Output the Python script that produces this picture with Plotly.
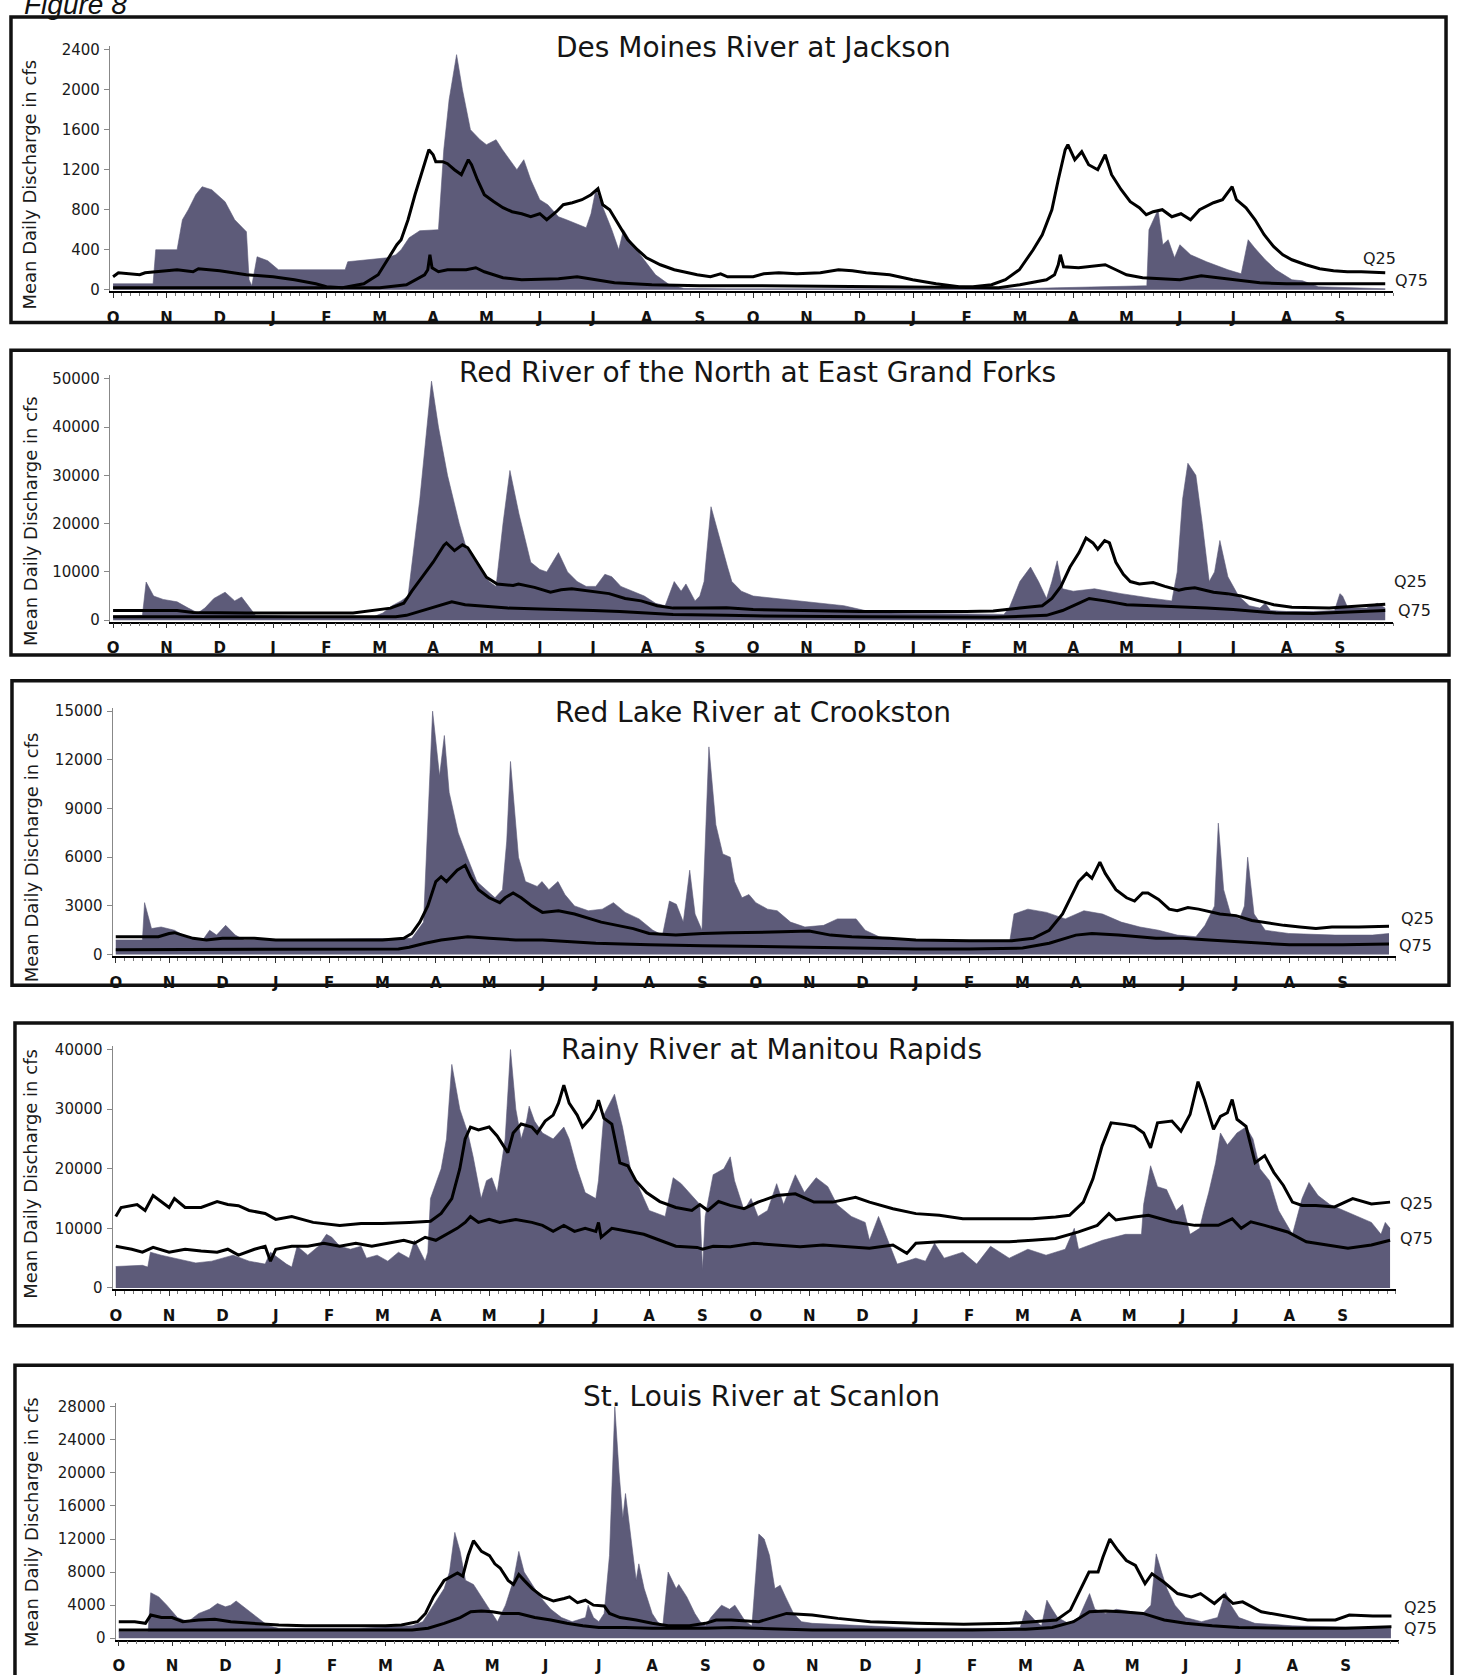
import plotly.graph_objects as go

W, H = 1460, 1675
FILL = '#5d5b79'
FONT = 'DejaVu Sans, Verdana, sans-serif'

months = ['O', 'N', 'D', 'J', 'F', 'M', 'A', 'M', 'J', 'J', 'A', 'S'] * 2
month_pos = list(range(24))

titles = ['Des Moines River at Jackson',
          'Red River of the North at East Grand Forks',
          'Red Lake River at Crookston',
          'Rainy River at Manitou Rapids',
          'St. Louis River at Scanlon']
ytitle = 'Mean Daily Discharge in cfs'

ticks_1 = [0, 400, 800, 1200, 1600, 2000, 2400]
ticks_2 = [0, 10000, 20000, 30000, 40000, 50000]
ticks_3 = [0, 3000, 6000, 9000, 12000, 15000]
ticks_4 = [0, 10000, 20000, 30000, 40000]
ticks_5 = [0, 4000, 8000, 12000, 16000, 20000, 24000, 28000]

# ---------------- Des Moines River at Jackson ----------------
dm_fill_x = [0, 0.75, 0.8, 1.2, 1.3, 1.41, 1.55, 1.67, 1.85, 2.1, 2.28, 2.5, 2.55, 2.6, 2.7, 2.9,
             3.1, 4.35, 4.4, 4.8, 5.14, 5.3, 5.4, 5.55, 5.75, 6.1, 6.2, 6.3, 6.44, 6.55, 6.62, 6.7,
             6.88, 7.0, 7.18, 7.3, 7.57, 7.7, 7.83, 8.0, 8.15, 8.35, 8.5, 8.75, 8.87, 8.96, 9.05,
             9.2, 9.35, 9.48, 9.57, 9.74, 9.96, 10.17, 10.43, 10.7, 11.5, 17.0, 17.7, 19.0, 19.38,
             19.42, 19.5, 19.59, 19.68, 19.78, 19.9, 20.0, 20.2, 20.5, 20.9, 21.15, 21.28, 21.4,
             21.6, 21.8, 22.1, 22.3, 22.6, 23.85]
dm_fill_y = [60, 60, 400, 400, 700, 800, 950, 1030, 1000, 880, 700, 580, 100, 40, 330, 290,
             200, 200, 280, 300, 320, 350, 400, 520, 590, 600, 1400, 1900, 2350, 2000, 1800, 1600,
             1500, 1450, 1500, 1400, 1200, 1300, 1100, 900, 850, 730, 700, 650, 620, 760, 1000,
             800, 600, 400, 600, 450, 300, 150, 50, 15, 10, 10, 20, 30, 40,
             600, 700, 800, 450, 500, 320, 450, 350, 280, 200, 160, 500, 420,
             300, 200, 100, 90, 30, 10]
dm_q25_x = [0, 0.1, 0.5, 0.6, 1.2, 1.5, 1.6, 2.0, 2.5, 3.0, 3.4, 3.8, 4.0, 4.3, 4.5, 4.7, 4.97,
            5.14, 5.32, 5.4, 5.53, 5.66, 5.75, 5.84, 5.92, 6.0, 6.05, 6.18, 6.27, 6.4, 6.53, 6.66,
            6.72, 6.83, 6.96, 7.14, 7.31, 7.48, 7.66, 7.83, 8.0, 8.13, 8.31, 8.44, 8.61, 8.79,
            8.96, 9.09, 9.18, 9.31, 9.48, 9.65, 9.83, 10.0, 10.26, 10.52, 10.78, 10.95, 11.2,
            11.39, 11.52, 12.0, 12.2, 12.48, 12.82, 13.26, 13.6, 13.86, 14.12, 14.56, 14.99,
            15.43, 15.86, 16.12, 16.47, 16.73, 16.99, 17.25, 17.42, 17.6, 17.72, 17.85, 17.9,
            18.03, 18.16, 18.29, 18.46, 18.6, 18.72, 18.9, 19.07, 19.24, 19.37, 19.5, 19.67,
            19.85, 20.02, 20.2, 20.37, 20.63, 20.8, 20.98, 21.06, 21.24, 21.41, 21.58, 21.76,
            21.93, 22.1, 22.36, 22.62, 22.88, 23.14, 23.4, 23.85]
dm_q25_y = [130, 170, 150, 170, 200, 180, 210, 190, 150, 130, 100, 60, 30, 20, 40, 60, 150,
            300, 450, 500, 700, 950, 1100, 1250, 1400, 1350, 1280, 1280, 1260, 1200, 1150, 1300,
            1250, 1100, 950, 880, 820, 780, 760, 730, 760, 700, 780, 850, 870, 900,
            950, 1010, 850, 800, 650, 500, 400, 320, 250, 200, 170, 150, 130,
            160, 130, 130, 160, 170, 160, 170, 200, 190, 170, 150, 100,
            60, 30, 30, 50, 100, 200, 400, 550, 800, 1100, 1400, 1450,
            1300, 1380, 1250, 1200, 1350, 1150, 1000, 880, 820, 750, 780, 800,
            730, 760, 700, 800, 870, 900, 1030, 900, 820, 700, 550, 430,
            350, 300, 250, 210, 190, 180, 180, 170]
dm_q75_x = [0, 3.0, 5.0, 5.5, 5.66, 5.84, 5.9, 5.94, 5.98, 6.1, 6.27, 6.62, 6.8, 6.96, 7.31, 7.66,
            8.35, 8.7, 9.05, 9.4, 10.1, 11.0, 12.0, 14.0, 16.6, 17.0, 17.3, 17.5, 17.65, 17.72,
            17.76, 17.82, 18.1, 18.4, 18.6, 18.8, 19.0, 19.3, 19.6, 20.0, 20.4, 20.7, 21.0,
            21.5, 22.0, 23.85]
dm_q75_y = [20, 20, 20, 50, 100, 150, 200, 350, 220, 180, 200, 200, 220, 180, 120, 100,
            110, 130, 100, 70, 50, 40, 40, 30, 20, 50, 80, 100, 150, 250,
            350, 230, 220, 240, 250, 200, 150, 120, 110, 100, 140, 120, 100,
            70, 60, 60]

# ---------------- Red River of the North ----------------
rr_fill_x = [0, 0.55, 0.62, 0.76, 0.94, 1.2, 1.41, 1.59, 1.72, 1.89, 2.1, 2.28, 2.41, 2.54, 2.67,
             3.5, 4.9, 5.06, 5.23, 5.4, 5.53, 5.75, 5.97, 6.1, 6.27, 6.49, 6.62, 6.8, 7.05, 7.18,
             7.31, 7.44, 7.61, 7.83, 8.0, 8.13, 8.35, 8.52, 8.7, 8.87, 9.05, 9.22, 9.35, 9.52,
             9.74, 9.96, 10.17, 10.35, 10.52, 10.65, 10.74, 10.91, 11.0, 11.08, 11.21, 11.39,
             11.52, 11.6, 11.78, 12.0, 12.4, 12.82, 13.26, 13.7, 14.1, 14.56, 16.7, 16.8, 17.0,
             17.2, 17.35, 17.5, 17.6, 17.7, 17.8, 18.0, 18.4, 18.9, 19.5, 19.85, 19.95, 20.05,
             20.15, 20.3, 20.42, 20.55, 20.65, 20.75, 20.9, 21.1, 21.3, 21.5, 21.6, 21.7, 22.0,
             22.5, 22.9, 23.0, 23.05, 23.15, 23.5, 23.7, 23.85]
rr_fill_y = [900, 1000, 7900, 5000, 4300, 3800, 2500, 1500, 2500, 4500, 5800, 4000, 4800, 3000, 1000,
             800, 800, 1500, 3000, 4000, 5000, 25000, 49500, 40000, 30000, 20000, 15000, 12000, 8000, 7000,
             20000, 31000, 22000, 12000, 10500, 10000, 14000, 10000, 8000, 7000, 7000, 9500, 9000, 7000,
             6000, 5000, 3500, 3000, 8000, 6000, 7500, 4000, 5000, 8000, 23500, 16000,
             11000, 8000, 6000, 5000, 4500, 4000, 3500, 3000, 2000, 1500, 1200, 2500, 8000,
             11000, 8000, 4500, 8000, 12300, 6500, 6000, 6500, 5500, 4500, 4000, 10000, 25000,
             32500, 30000, 20000, 8000, 10000, 16500, 9000, 5000, 3000, 2500, 3500, 2000, 1800,
             1800, 2000, 5500, 5000, 2500, 2500, 3500, 2500]
rr_q25_x = [0, 1.2, 1.5, 2.5, 4.5, 4.9, 5.2, 5.45, 5.6, 5.8, 6.0, 6.2, 6.25, 6.4, 6.55, 6.65, 6.8,
            7.0, 7.2, 7.5, 7.6, 7.9, 8.2, 8.4, 8.6, 9.0, 9.3, 9.6, 9.9, 10.2, 10.5, 11.0, 11.5,
            12.0, 13.0, 14.0, 16.0, 16.5, 17.0, 17.42, 17.6, 17.77, 17.94, 18.11, 18.24, 18.37,
            18.46, 18.59, 18.68, 18.8, 18.94, 19.07, 19.24, 19.5, 19.72, 19.98, 20.1, 20.28,
            20.63, 20.89, 21.15, 21.5, 21.76, 22.1, 22.8, 23.85]
rr_q25_y = [2000, 2000, 1600, 1500, 1500, 2000, 2500, 3500, 6000, 9000, 12000, 15500, 16000, 14400,
            15600, 15000, 12300, 8900, 7500, 7200, 7500, 6800, 5800, 6300, 6500, 6000, 5500, 4500,
            4000, 3000, 2500, 2500, 2600, 2200, 2000, 1800, 1800, 1900, 2500, 3000, 4500, 7000,
            11000, 14000, 17000, 16000, 14700, 16500, 16000, 12000, 9500, 8000, 7500, 7800, 7000,
            6200, 6500, 6700, 5800, 5500, 5000, 4000, 3200, 2700, 2500, 3300]
rr_q75_x = [0, 5.3, 5.5, 5.8, 6.1, 6.35, 6.6, 7.0, 7.4, 8.0, 8.5, 9.0, 9.5, 10.0, 10.5, 11.5,
            12.0, 14.0, 16.5, 17.5, 17.8, 18.1, 18.3, 18.6, 19.0, 19.5, 20.0, 20.5, 21.0, 21.8,
            22.5, 23.85]
rr_q75_y = [700, 700, 1000, 2000, 3000, 3800, 3200, 2800, 2500, 2300, 2200, 2000, 1800, 1500,
            1200, 1000, 900, 700, 600, 1000, 2000, 3500, 4500, 4000, 3200, 3000, 2800, 2500, 2200,
            1500, 1400, 2000]

# ---------------- Red Lake River at Crookston ----------------
rl_fill_x = [0, 0.5, 0.54, 0.67, 0.85, 1.1, 1.37, 1.63, 1.76, 1.89, 2.06, 2.24, 2.41, 5.55, 5.77,
             5.85, 5.94, 6.07, 6.16, 6.25, 6.42, 6.59, 6.77, 6.94, 7.11, 7.25, 7.33, 7.4, 7.47,
             7.55, 7.68, 7.9, 7.99, 8.12, 8.29, 8.42, 8.6, 8.86, 9.12, 9.33, 9.55, 9.81, 10.07,
             10.25, 10.38, 10.51, 10.64, 10.76, 10.86, 10.99, 11.12, 11.25, 11.38, 11.52, 11.6,
             11.74, 11.87, 12.0, 12.22, 12.4, 12.65, 12.92, 13.27, 13.53, 13.88, 14.05, 14.31,
             14.57, 16.76, 16.84, 17.1, 17.45, 17.8, 18.15, 18.5, 18.85, 19.2, 19.55, 19.9, 20.25,
             20.42, 20.6, 20.67, 20.77, 20.9, 21.07, 21.16, 21.22, 21.34, 21.55, 21.99, 22.86,
             23.56, 23.87]
rl_fill_y = [900, 900, 3200, 1600, 1700, 1500, 1000, 900, 1500, 1200, 1800, 1200, 900, 1000, 2000,
             8000, 15000, 11000, 13500, 10000, 7500, 6000, 4500, 4000, 3500, 4000, 7000, 11900, 9000,
             6000, 4500, 4200, 4500, 4000, 4500, 3700, 3000, 2700, 2800, 3200, 2600, 2200, 1500,
             1200, 3300, 3100, 2000, 5200, 2500, 1500, 12800, 8000, 6200, 6000, 4500,
             3500, 3700, 3200, 2800, 2700, 2000, 1700, 1800, 2200, 2200, 1500, 1100,
             900, 800, 2500, 2800, 2600, 2200, 2700, 2500, 2000, 1700, 1500, 1200, 1100,
             1800, 3000, 8100, 4000, 2500, 2200, 3000, 6000, 2500, 1500, 1300, 1200,
             1200, 1300]
rl_q25_x = [0, 0.8, 1.0, 1.1, 1.25, 1.45, 1.7, 2.0, 2.6, 3.0, 5.0, 5.4, 5.55, 5.7, 5.85, 6.0, 6.1,
            6.2, 6.4, 6.55, 6.65, 6.8, 7.0, 7.2, 7.3, 7.45, 7.6, 7.8, 8.0, 8.3, 8.6, 8.9, 9.1, 9.4,
            9.7, 10.0, 10.5, 11.0, 11.5, 12.5, 13.0, 13.4, 13.8, 14.5, 15.0, 16.0, 16.8, 17.2,
            17.5, 17.75, 17.9, 18.05, 18.2, 18.3, 18.45, 18.55, 18.75, 18.95, 19.1, 19.25, 19.35,
            19.55, 19.75, 19.9, 20.1, 20.3, 20.7, 21.0, 21.3, 21.5, 21.9, 22.2, 22.5, 22.8, 23.3,
            23.87]
rl_q25_y = [1100, 1100, 1300, 1350, 1200, 1000, 900, 1000, 1000, 900, 900, 1000, 1300, 2000, 3000,
            4500, 4800, 4500, 5200, 5500, 4800, 4000, 3500, 3200, 3500, 3800, 3500, 3000, 2600, 2700,
            2500, 2200, 2000, 1800, 1600, 1300, 1200, 1300, 1350, 1400, 1450, 1200, 1100, 1000,
            900, 850, 850, 1000, 1500, 2500, 3500, 4500, 5000, 4700, 5700, 5000, 4000, 3500, 3300,
            3800, 3800, 3400, 2800, 2700, 2900, 2800, 2500, 2400, 2100, 2000, 1800, 1700, 1600,
            1700, 1700, 1750]
rl_q75_x = [0, 5.3, 5.5, 5.8, 6.1, 6.4, 6.6, 7.0, 7.5, 8.0, 8.5, 9.0, 9.5, 10.0, 11.0, 12.0, 13.0,
            14.0, 15.0, 16.0, 17.0, 17.5, 17.8, 18.0, 18.3, 18.8, 19.5, 20.0, 20.5, 21.0, 22.0,
            23.0, 23.87]
rl_q75_y = [300, 350, 450, 700, 900, 1000, 1100, 1000, 900, 900, 800, 700, 650, 600, 550, 500, 450,
            420, 350, 350, 400, 700, 1000, 1200, 1300, 1200, 1000, 1000, 900, 800, 600, 600, 650]

# ---------------- Rainy River at Manitou Rapids ----------------
ra_fill_x = [0, 0.5, 0.6, 0.65, 0.85, 1.1, 1.3, 1.5, 1.8, 2.0, 2.2, 2.5, 2.8, 2.9, 3.2, 3.3, 3.4,
             3.6, 3.8, 3.95, 4.05, 4.2, 4.4, 4.6, 4.7, 4.9, 5.1, 5.3, 5.5, 5.6, 5.8, 5.85, 5.9,
             6.1, 6.2, 6.3, 6.45, 6.6, 6.7, 6.85, 6.95, 7.05, 7.15, 7.3, 7.4, 7.5, 7.6, 7.7, 7.75,
             7.85, 8.0, 8.2, 8.4, 8.5, 8.65, 8.8, 9.0, 9.05, 9.15, 9.35, 9.5, 9.65, 9.8, 10.0,
             10.3, 10.45, 10.6, 10.85, 10.95, 11.0, 11.05, 11.2, 11.4, 11.52, 11.6, 11.78, 11.91,
             12.04, 12.22, 12.39, 12.52, 12.74, 12.91, 13.13, 13.35, 13.52, 13.79, 14.05, 14.13,
             14.3, 14.52, 14.65, 15.0, 15.18, 15.35, 15.53, 15.88, 16.14, 16.4, 16.75, 17.1,
             17.44, 17.8, 17.97, 18.05, 18.5, 18.93, 19.23, 19.27, 19.4, 19.53, 19.7, 19.88, 20.0,
             20.14, 20.32, 20.4, 20.49, 20.62, 20.71, 20.84, 21.02, 21.19, 21.32, 21.45, 21.63,
             21.8, 21.93, 22.06, 22.24, 22.37, 22.54, 22.76, 23.02, 23.28, 23.54, 23.72, 23.8,
             23.89]
ra_fill_y = [3600, 3800, 3500, 6000, 5500, 5000, 4500, 4200, 4500, 5000, 5500, 4500, 4000, 6000,
             4000, 3500, 7000, 5500, 7000, 9000, 8500, 7000, 6500, 7000, 5000, 5500, 4500, 6000,
             5000, 8000, 4500, 6000, 15000, 20000, 25000, 37500, 30000, 26000, 22000, 15000, 18000,
             18500, 16000, 25000, 40000, 30000, 25000, 28000, 30500, 28000, 26000, 25000, 27000,
             25000, 20000, 16000, 15000, 18000, 29000, 32500, 27000, 20000, 17000, 13000, 12000,
             18500, 17500, 15000, 14000, 3000, 12000, 19000, 20000, 22000, 18000, 13000, 15000,
             12000, 13000, 17500, 14000, 19000, 16000, 18500, 17000, 14000, 12000, 11000, 8000,
             12000, 7000, 4000, 5000, 4500, 7500, 5000, 6000, 4000, 7000, 5000, 6500,
             5500, 6500, 10000, 6500, 8000, 9000, 9000, 14000, 20500, 17000, 16500, 13000, 14000,
             9000, 10000, 13000, 16000, 21000, 26000, 24000, 26000, 27000, 25000, 20000, 18000,
             13000, 11000, 9000, 15000, 17700, 15500, 14000, 13000, 12000, 11000, 9000, 11000,
             10000]
ra_q25_x = [0, 0.1, 0.4, 0.55, 0.7, 0.85, 1.0, 1.1, 1.3, 1.6, 1.9, 2.1, 2.3, 2.5, 2.8, 3.0, 3.3,
            3.7, 4.2, 4.6, 5.0, 5.5, 5.9, 6.1, 6.3, 6.45, 6.55, 6.65, 6.8, 7.0, 7.15, 7.35, 7.45,
            7.6, 7.8, 7.9, 8.05, 8.2, 8.3, 8.4, 8.5, 8.65, 8.75, 8.9, 9.0, 9.05, 9.15, 9.3, 9.45,
            9.6, 9.75, 9.95, 10.2, 10.5, 10.8, 10.95, 11.1, 11.3, 11.52, 11.78, 12.04, 12.39,
            12.74, 13.09, 13.44, 13.87, 14.13, 14.57, 15.0, 15.44, 15.88, 16.31, 16.75, 17.18,
            17.62, 17.88, 18.14, 18.32, 18.49, 18.66, 18.93, 19.1, 19.27, 19.4, 19.53, 19.8,
            19.97, 20.14, 20.29, 20.41, 20.58, 20.71, 20.84, 20.93, 21.02, 21.19, 21.36, 21.54,
            21.71, 21.89, 22.06, 22.24, 22.5, 22.85, 23.19, 23.54, 23.89]
ra_q25_y = [12000, 13500, 14000, 13000, 15500, 14500, 13500, 15000, 13500, 13500, 14500, 14000,
            13800, 13000, 12500, 11500, 12000, 11000, 10500, 10800, 10800, 11000, 11200, 12500,
            15000, 20000, 25000, 27000, 26500, 27000, 25500, 22700, 26000, 27500, 27000, 26000,
            28000, 29000, 31000, 34000, 31000, 29000, 27000, 28500, 30000, 31500, 28500, 27500,
            21000, 20500, 18000, 16000, 14500, 13500, 13000, 14000, 13000, 14500, 13850, 13300,
            14400, 15500, 15800, 14400, 14400, 15200, 14400, 13300, 12470, 12190, 11630, 11630,
            11630, 11630, 11900, 12190, 14400, 18300, 23800, 27700, 27400, 27100, 26000, 23500,
            27700, 28000, 26300, 29100, 34600, 31600, 26600, 28800, 29400, 31600, 28300, 27100,
            21000, 22200, 19400, 17200, 14400, 13850, 13850, 13600, 15000, 14100, 14400]
ra_q75_x = [0, 0.3, 0.5, 0.7, 1.0, 1.3, 1.6, 1.9, 2.1, 2.3, 2.6, 2.8, 2.9, 3.0, 3.3, 3.6, 3.9,
            4.2, 4.5, 4.8, 5.1, 5.4, 5.6, 5.8, 6.0, 6.2, 6.4, 6.55, 6.65, 6.8, 7.0, 7.2, 7.5, 7.8,
            8.0, 8.2, 8.4, 8.6, 8.8, 9.0, 9.05, 9.1, 9.3, 9.6, 9.9, 10.2, 10.5, 10.9, 11.0, 11.2,
            11.52, 11.96, 12.39, 12.83, 13.26, 13.7, 14.13, 14.57, 14.83, 15.0, 15.44, 15.88,
            16.31, 16.75, 17.18, 17.62, 18.05, 18.4, 18.62, 18.75, 19.1, 19.36, 19.8, 20.23,
            20.67, 20.93, 21.1, 21.28, 21.54, 21.97, 22.32, 22.67, 23.1, 23.54, 23.89]
ra_q75_y = [7000, 6500, 6000, 6800, 6000, 6500, 6200, 6000, 6500, 5500, 6500, 7000, 4500, 6500,
            7000, 7000, 7500, 7000, 7500, 7000, 7500, 8000, 7500, 8500, 8000, 9000, 10000, 11000,
            12000, 11000, 11500, 11000, 11500, 11000, 10500, 9500, 10500, 9500, 10000, 9500,
            11000, 8500, 10000, 9500, 9000, 8000, 7000, 6800, 6500, 7000,
            6900, 7500, 7200, 6900, 7200, 6900, 6650, 7200, 5800, 7500, 7750, 7750,
            7750, 7750, 8000, 8300, 9400, 10500, 12470, 11400, 11900, 12200, 11100, 10500,
            10500, 11600, 10000, 11100, 10500, 9400, 7750, 7200, 6650, 7200, 8000]

# ---------------- St. Louis River at Scanlon ----------------
sl_fill_x = [0, 0.55, 0.6, 0.75, 0.9, 1.1, 1.3, 1.5, 1.7, 1.85, 2.0, 2.1, 2.2, 2.4, 2.6, 2.8, 3.0,
             4.5, 5.5, 5.7, 5.9, 6.1, 6.2, 6.3, 6.4, 6.5, 6.65, 6.8, 7.0, 7.1, 7.25, 7.4, 7.5, 7.6,
             7.75, 7.9, 8.1, 8.3, 8.5, 8.75, 8.8, 8.9, 9.0, 9.1, 9.2, 9.3, 9.38, 9.45, 9.5, 9.6,
             9.7, 9.75, 9.85, 10.0, 10.1, 10.2, 10.3, 10.45, 10.5, 10.65, 10.8, 10.9, 11.0, 11.1,
             11.3, 11.45, 11.55, 11.6, 11.75, 11.87, 12.0, 12.1, 12.2, 12.3, 12.4, 12.5, 12.65,
             12.8, 13.0, 14.0, 15.0, 16.5, 16.9, 17.0, 17.2, 17.3, 17.4, 17.5, 17.6, 17.8, 18.0,
             18.2, 18.3, 18.5, 18.7, 19.0, 19.2, 19.35, 19.45, 19.55, 19.65, 19.8, 20.0, 20.3,
             20.6, 20.75, 20.85, 21.0, 21.3, 22.0, 23.0, 23.85]
sl_fill_y = [800, 800, 5500, 5000, 4000, 2500, 2000, 3000, 3500, 4200, 3800, 4000, 4500, 3500, 2500,
             1500, 1200, 1200, 1500, 2000, 4000, 6000, 8000, 12800, 10500, 7000, 6500, 5000, 3000,
             2000, 4000, 7000, 10500, 8000, 6500, 5000, 3500, 2500, 2000, 2500, 4000, 2500, 2000,
             3000, 10000, 28000, 20000, 14500, 17500, 12000, 7000, 9000, 6000, 3000, 2000, 1500,
             8000, 6000, 6500, 5000, 3000, 2000, 1500, 2500, 4000, 3500, 4000, 3500, 2000, 1500,
             12600, 12000, 10000, 6000, 6400, 5000, 3000, 2000, 1800, 1500, 1200, 1200, 1300,
             3400, 2000, 1500, 4600, 3500, 2500, 1800, 2500, 5400, 3500, 3000, 3500, 3200, 3000,
             4000, 10200, 8000, 6000, 4000, 2500, 2000, 2500, 5600, 4000, 2500, 1800, 1500, 1300,
             1200]
sl_q25_x = [0, 0.3, 0.5, 0.6, 0.8, 1.0, 1.2, 1.5, 1.8, 2.1, 2.5, 3.0, 3.5, 5.0, 5.3, 5.6, 5.75,
            5.9, 6.1, 6.35, 6.45, 6.55, 6.65, 6.8, 6.95, 7.05, 7.15, 7.3, 7.4, 7.5, 7.6, 7.75,
            7.95, 8.15, 8.35, 8.45, 8.6, 8.75, 8.9, 9.1, 9.2, 9.4, 9.7, 10.0, 10.3, 10.7, 11.0,
            11.2, 11.48, 12.0, 12.52, 13.0, 13.48, 14.09, 14.96, 15.84, 16.71, 17.58, 17.84,
            18.02, 18.19, 18.36, 18.45, 18.58, 18.71, 18.89, 19.06, 19.24, 19.37, 19.59, 19.85,
            20.11, 20.28, 20.54, 20.72, 20.89, 21.07, 21.42, 21.76, 22.29, 22.81, 23.07, 23.51,
            23.86]
sl_q25_y = [2000, 2000, 1800, 2800, 2500, 2500, 2000, 2200, 2300, 2000, 1800, 1600, 1500, 1500,
            1600, 2000, 3000, 5000, 7000, 7900, 7500, 10000, 11800, 10500, 10000, 9000, 8500,
            7000, 6500, 7700, 7000, 6000, 5000, 4500, 4800, 5000, 4300, 4600, 4000, 3900, 3000,
            2500, 2200, 1800, 1500, 1500, 1800, 2200, 2200, 2000, 3000, 2800, 2400, 2000, 1800,
            1700, 1800, 2200, 3400, 5800, 8000, 8000, 9800, 12000, 10800, 9400, 8800, 6600, 7800,
            6800, 5400, 5000, 5400, 4200, 5200, 4200, 4400, 3200, 2800, 2200, 2200, 2800, 2700,
            2700]
sl_q75_x = [0, 5.5, 5.8, 6.1, 6.4, 6.6, 6.8, 7.0, 7.2, 7.5, 7.8, 8.1, 8.4, 8.7, 9.0, 9.5, 10.0,
            11.0, 11.5, 12.0, 13.0, 16.0, 17.0, 17.5, 17.9, 18.2, 18.5, 18.8, 19.2, 19.6, 20.0,
            20.5, 21.0, 22.0, 23.0, 23.86]
sl_q75_y = [1000, 1000, 1200, 1800, 2500, 3200, 3300, 3200, 3000, 3000, 2500, 2200, 1800, 1500,
            1300, 1300, 1200, 1200, 1300, 1200, 1000, 1000, 1100, 1300, 2000, 3200, 3300, 3200,
            3000, 2200, 1800, 1500, 1300, 1200, 1200, 1400]

series = [
    (dm_fill_x, dm_fill_y, dm_q25_x, dm_q25_y, dm_q75_x, dm_q75_y, ticks_1),
    (rr_fill_x, rr_fill_y, rr_q25_x, rr_q25_y, rr_q75_x, rr_q75_y, ticks_2),
    (rl_fill_x, rl_fill_y, rl_q25_x, rl_q25_y, rl_q75_x, rl_q75_y, ticks_3),
    (ra_fill_x, ra_fill_y, ra_q25_x, ra_q25_y, ra_q75_x, ra_q75_y, ticks_4),
    (sl_fill_x, sl_fill_y, sl_q25_x, sl_q25_y, sl_q75_x, sl_q75_y, ticks_5),
]

# ---------------- geometry (pixels in the 1460x1675 page) ----------------
geom = [
    dict(x0=110.3, sp=53.45, y0=287, yt=45, box=(8, 12, 1446, 320), title=(752, 43),
         ytl=(27, 181), q25=(1379, 255), q75=(1411, 278)),
    dict(x0=110.3, sp=53.45, y0=620, yt=376.7, box=(8, 348, 1449, 655), title=(756, 370),
         ytl=(28, 520), q25=(1410, 581), q75=(1414, 610)),
    dict(x0=113, sp=53.45, y0=957, yt=711.7, box=(9, 681, 1449, 988), title=(752, 713),
         ytl=(28, 859), q25=(1417, 921), q75=(1415, 948)),
    dict(x0=113, sp=53.45, y0=1293, yt=1052.7, box=(12, 1026, 1452, 1331), title=(770, 1053),
         ytl=(28, 1178), q25=(1416, 1208), q75=(1416, 1243)),
    dict(x0=116, sp=53.45, y0=1646, yt=1412.7, box=(12, 1371, 1452, 1690), title=(760, 1402),
         ytl=(28, 1529), q25=(1420, 1615), q75=(1420, 1636)),
]

fig = go.Figure()
annotations = []
shapes = []
layout_axes = {}

for i, (s, g) in enumerate(zip(series, geom)):
    fx, fy, ax, ay, bx, by, tv = s
    ymax = tv[-1]
    n = '' if i == 0 else str(i + 1)
    xa, ya = 'x' + n, 'y' + n
    fig.add_trace(go.Scatter(x=fx, y=fy, mode='lines', fill='tozeroy', fillcolor=FILL,
                             line=dict(width=0.6, color=FILL), xaxis=xa, yaxis=ya,
                             hoverinfo='skip'))
    fig.add_trace(go.Scatter(x=ax, y=ay, mode='lines', line=dict(width=3, color='black'),
                             xaxis=xa, yaxis=ya, name='Q25'))
    fig.add_trace(go.Scatter(x=bx, y=by, mode='lines', line=dict(width=3, color='black'),
                             xaxis=xa, yaxis=ya, name='Q75'))
    xlo, xhi = -0.06, 24.0
    xd0 = (g['x0'] + xlo * g['sp']) / W
    xd1 = (g['x0'] + xhi * g['sp']) / W
    ylo, yhi = -ymax * 0.006, ymax * 1.015
    pxu = (g['y0'] - g['yt']) / ymax
    yd0 = 1 - (g['y0'] - ylo * pxu) / H
    yd1 = 1 - (g['y0'] - yhi * pxu) / H
    layout_axes['xaxis' + n] = dict(
        domain=[xd0, xd1], range=[xlo, xhi], anchor=ya, tickmode='array',
        tickvals=month_pos, ticktext=months, showline=True, linecolor='black', linewidth=1.5,
        ticks='outside', ticklen=5, tickcolor='#333', showgrid=False, zeroline=False,
        ticklabelstandoff=7,
        tickfont=dict(family=FONT, size=15, color='#111', weight='bold'),
        minor=dict(tickmode='linear', tick0=0, dtick=1 / 6, ticks='outside', ticklen=3,
                   tickcolor='#777', showgrid=False))
    layout_axes['yaxis' + n] = dict(
        domain=[yd0, yd1], range=[ylo, yhi], anchor=xa, tickmode='array', tickvals=tv,
        ticktext=[str(v) for v in tv], showline=True, linecolor='#888', linewidth=1,
        ticks='outside', ticklen=5, tickcolor='#888', showgrid=False, zeroline=False,
        tickfont=dict(family=FONT, size=15, color='#1a1a1a'), ticklabelstandoff=1)
    bx0, by0, bx1, by1 = g['box']
    shapes.append(dict(type='rect', xref='paper', yref='paper', x0=bx0 / W, x1=bx1 / W,
                       y0=1 - by0 / H, y1=1 - by1 / H, line=dict(color='#111', width=3.5)))
    annotations.append(dict(text=titles[i], x=g['title'][0] / W, y=1 - g['title'][1] / H,
                            xref='paper', yref='paper', showarrow=False, xanchor='center',
                            yanchor='middle', font=dict(family=FONT, size=28, color='#151515')))
    annotations.append(dict(text=ytitle, x=g['ytl'][0] / W, y=1 - g['ytl'][1] / H,
                            xref='paper', yref='paper', showarrow=False, textangle=-90,
                            xanchor='center', yanchor='middle',
                            font=dict(family=FONT, size=18, color='#1a1a1a')))
    for lab, key in (('Q25', 'q25'), ('Q75', 'q75')):
        annotations.append(dict(text=lab, x=g[key][0] / W, y=1 - g[key][1] / H,
                                xref='paper', yref='paper', showarrow=False,
                                xanchor='center', yanchor='middle',
                                font=dict(family=FONT, size=16, color='#1a1a1a')))

annotations.append(dict(text='<i>Figure 8</i>', x=19 / W, y=1 + 1 / H, xref='paper', yref='paper',
                        showarrow=False, xanchor='left', yanchor='middle',
                        font=dict(family='Liberation Sans, Arial, sans-serif', size=28, color='#111')))

fig.update_layout(width=W, height=H, margin=dict(l=0, r=0, t=0, b=0), showlegend=False,
                  plot_bgcolor='white', paper_bgcolor='white', shapes=shapes,
                  annotations=annotations, **layout_axes)

fig.write_html('out.html', config={'displayModeBar': False},
               post_script="document.body.style.margin='0px';document.body.style.overflow='hidden';")
